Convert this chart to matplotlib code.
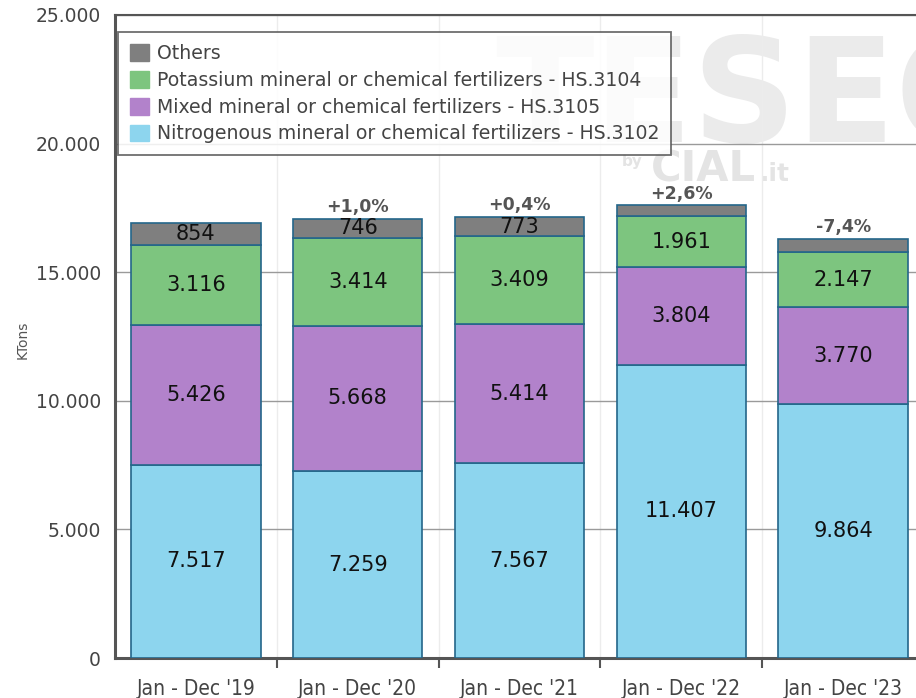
import numpy as np
import matplotlib
matplotlib.use("Agg")
import matplotlib.pyplot as plt
from matplotlib.patches import Patch
from matplotlib.ticker import FuncFormatter, FixedLocator

# data (KTons)
periods = ["Jan - Dec '19", "Jan - Dec '20", "Jan - Dec '21", "Jan - Dec '22", "Jan - Dec '23"]
nitrogenous = [7517, 7259, 7567, 11407, 9864]
mixed = [5426, 5668, 5414, 3804, 3770]
potassium = [3116, 3414, 3409, 1961, 2147]
others = [854, 746, 773, 425, 514]
changes = ["", "+1,0%", "+0,4%", "+2,6%", "-7,4%"]

series_names = ["Nitrogenous mineral or chemical fertilizers - HS.3102",
                "Mixed mineral or chemical fertilizers - HS.3105",
                "Potassium mineral or chemical fertilizers - HS.3104",
                "Others"]
colors = ["#8dd5ee", "#b282cb", "#7dc57f", "#7f7f7f"]

fig = plt.figure(figsize=(9.16, 6.98), dpi=100)
ax = fig.add_axes([115 / 916, 1 - 658 / 698, 809 / 916, 643 / 698])

x = np.arange(len(periods))
bottom = np.zeros(len(periods))
for name, vals, col in zip(series_names, [nitrogenous, mixed, potassium, others], colors):
    vals = np.array(vals, dtype=float)
    ax.bar(x, vals, width=0.8, bottom=bottom, color=col, edgecolor="#24668a",
           linewidth=1.2, zorder=3)
    for xi, b, v in zip(x, bottom, vals):
        if v > 600:
            ax.text(xi, b + v / 2, f"{int(v):,}".replace(",", "."), ha="center",
                    va="center", fontsize=15, color="#111111", zorder=4)
    bottom += vals

for xi, tot, ch in zip(x, bottom, changes):
    if ch:
        ax.text(xi, tot + 110, ch, ha="center", va="bottom", fontsize=12.5,
                fontweight="bold", color="#555555", zorder=4)

ax.set_xlim(-0.5, len(periods) - 0.5)
ax.set_ylim(0, 25000)
ax.set_xticks(x)
ax.set_xticklabels(periods, fontstretch="condensed")
ax.xaxis.set_minor_locator(FixedLocator(np.arange(0.5, len(periods) - 0.5, 1)))
ax.tick_params(axis="x", which="major", length=0, pad=15, labelsize=15, labelcolor="#444444")
ax.tick_params(axis="x", which="minor", length=7, width=1.5, color="#555555")
ax.set_yticks(np.arange(0, 25001, 5000))
ax.yaxis.set_major_formatter(FuncFormatter(lambda v, p: f"{int(v):,}".replace(",", ".")))
ax.tick_params(axis="y", length=0, pad=10, labelsize=13.5, labelcolor="#444444")
ax.set_ylabel("KTons", fontsize=10, color="#555555")
ax.yaxis.set_label_coords(-0.105, 0.495)

ax.grid(axis="y", color="#9a9a9a", linewidth=1, zorder=1)
ax.grid(axis="x", which="minor", color="#ececec", linewidth=1, zorder=1)
for side in ["left", "bottom", "top"]:
    ax.spines[side].set_color("#555555")
    ax.spines[side].set_linewidth(2.2)
ax.spines["top"].set_linewidth(1.5)
ax.spines["right"].set_visible(False)

# watermark
ax.text(0.47, 0.864, "TESEO", transform=ax.transAxes, fontsize=104, fontweight="bold",
        color="#ebebeb", ha="left", va="center", zorder=0.5)
ax.text(0.627, 0.772, "by", transform=ax.transAxes, fontsize=11, fontweight="bold",
        color="#e4e4e4", ha="left", va="center", zorder=0.5)
ax.text(0.662, 0.76, "CIAL", transform=ax.transAxes, fontsize=30, fontweight="bold",
        color="#e4e4e4", ha="left", va="center", zorder=0.5)
ax.text(0.797, 0.752, ".it", transform=ax.transAxes, fontsize=18, fontweight="bold",
        color="#e4e4e4", ha="left", va="center", zorder=0.5)

handles = [Patch(facecolor=c, edgecolor=c) for c in colors[::-1]]
leg = ax.legend(handles, series_names[::-1], loc="upper left", bbox_to_anchor=(0.0037, 0.9736),
                borderaxespad=0, fontsize=13.6, frameon=True, fancybox=False,
                handlelength=1.0, handleheight=1.0, handletextpad=0.45,
                labelspacing=0.42, borderpad=0.62, labelcolor="#444444")
leg.get_frame().set_edgecolor("#555555")
leg.get_frame().set_linewidth(1.3)
leg.get_frame().set_facecolor("white")
leg.get_frame().set_alpha(0.85)
leg.set_zorder(5)

fig.savefig("out.png", dpi=100)
